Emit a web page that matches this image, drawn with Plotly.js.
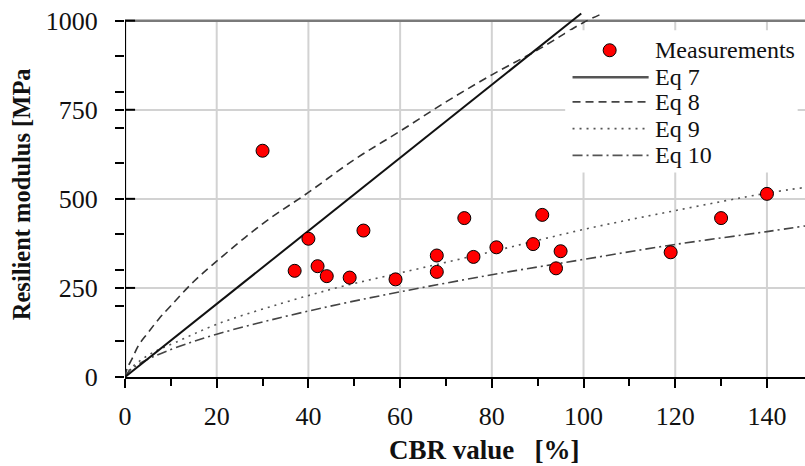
<!DOCTYPE html>
<html>
<head>
<meta charset="utf-8">
<script src="https://cdn.plot.ly/plotly-3.0.1.min.js"></script>
<style>html,body{margin:0;padding:0;background:#fff;}#chart{width:805px;height:466px;}</style>
</head>
<body>
<div id="chart"></div>
<script>
// Measurements
const cbr = [30, 37, 40, 42, 44, 49, 52, 59, 68, 68, 74, 76, 81, 89, 91, 94, 95, 119, 130, 140];
const mr  = [635, 298, 388, 311, 283, 279, 411, 274, 341, 295, 446, 337, 364, 373, 455, 305, 353, 350, 446, 514];

// Eq 7 (solid)
const eq7X = [0, 20, 40, 60, 80, 99.5];
const eq7Y = [0, 205, 410, 615, 820, 1020];

// Eq 8 (dashed)
const eq8X = [0, 0.5, 1.5, 3, 5, 7.5, 10, 15, 20, 30, 40, 50, 60, 70, 80, 90, 100, 104.5];
const eq8Y = [0, 25, 50, 90, 124, 165, 200, 268, 325, 430, 518, 610, 690, 772, 848, 918, 995, 1022];

// Eq 9 (dotted)
const eq9X = [0, 1, 3, 6, 11, 20, 34, 47, 60, 80, 100, 120, 140, 148.3];
const eq9Y = [0, 21, 43, 68, 97, 148, 206, 253, 292, 352, 414, 467, 516, 532];

// Eq 10 (dash-dot)
const eq10X = [0, 1, 3, 6, 11, 20, 34, 47, 60, 80, 100, 120, 140, 148.3];
const eq10Y = [0, 18, 36, 56, 82, 120, 167, 205, 239, 287, 330, 372, 408, 424];

// Axis ticks
const xTicks = [0, 20, 40, 60, 80, 100, 120, 140];
const yTicks = [0, 250, 500, 750, 1000];

// Legend labels
const legendNames = ["Measurements", "Eq 7", "Eq 8", "Eq 9", "Eq 10"];

const serif = "Liberation Serif";
const xMax = 148.3, yTop = 1000;

const traces = [
  {x: eq10X, y: eq10Y, mode: "lines", line: {color: "#444", width: 1.6, dash: "10px,4px,2px,4px", shape: "spline"}, showlegend: false, hoverinfo: "skip"},
  {x: eq9X, y: eq9Y, mode: "lines", line: {color: "#555", width: 1.6, dash: "2px,5px", shape: "spline"}, showlegend: false, hoverinfo: "skip"},
  {x: eq8X, y: eq8Y, mode: "lines", line: {color: "#333", width: 1.6, dash: "8px,5px", shape: "spline"}, showlegend: false, hoverinfo: "skip"},
  {x: eq7X, y: eq7Y, mode: "lines", line: {color: "#111", width: 2}, showlegend: false, hoverinfo: "skip"},
  {x: cbr, y: mr, mode: "markers", marker: {color: "#ff0000", size: 13, line: {color: "#000", width: 1}}, showlegend: false, cliponaxis: false}
];

const shapes = [];
// vertical grid lines (only up to 1000)
xTicks.filter(v => v > 0).forEach(v => shapes.push({type: "line", xref: "x", yref: "y", x0: v, x1: v, y0: 0, y1: yTop, line: {color: "#d2d2d2", width: 2}, layer: "below"}));
// top border
shapes.push({type: "line", xref: "x", yref: "y", x0: 0, x1: xMax, y0: yTop, y1: yTop, line: {color: "#7a7a7a", width: 2.5}, layer: "between"});
// left axis line
shapes.push({type: "line", xref: "x", yref: "y", x0: 0, x1: 0, y0: 0, y1: yTop, line: {color: "#000", width: 2.2}, layer: "between"});
// inside stubs of major y ticks
yTicks.filter(v => v > 0).forEach(v => shapes.push({type: "line", xref: "x", yref: "y", x0: 0, x1: 2.2, y0: v, y1: v, line: {color: "#000", width: 2}, layer: "between"}));
// legend box
shapes.push({type: "rect", xref: "x", yref: "y", x0: 96, x1: 146.7, y0: 574, y1: 973, fillcolor: "#fff", line: {width: 0}, layer: "above"});
// legend samples
const legY = [917, 841, 772, 697, 622];
const legDash = [null, "solid", "8px,5px", "2px,5px", "10px,4px,2px,4px"];
const legCol = [null, "#555", "#444", "#555", "#555"];
for (let i = 1; i < 5; i++) {
  shapes.push({type: "line", xref: "x", yref: "y", x0: 97.6, x1: 114.2, y0: legY[i], y1: legY[i], line: {color: legCol[i], width: i === 1 ? 2.5 : 1.8, dash: legDash[i]}, layer: "above"});
}
shapes.push({type: "circle", xref: "x", yref: "y", xsizemode: "pixel", ysizemode: "pixel", xanchor: 105.7, yanchor: legY[0], x0: -6.5, x1: 6.5, y0: -6.5, y1: 6.5, fillcolor: "#ff0000", line: {color: "#000", width: 1}, layer: "above"});

const annotations = legendNames.map((t, i) => ({
  text: t, xref: "x", yref: "y", x: 115.1, y: legY[i], xanchor: "left", yanchor: "middle", showarrow: false,
  font: {family: serif, size: 24, color: "#111"}
}));
annotations.push({text: "<b>CBR value\u00a0\u00a0\u00a0[%]</b>", xref: "paper", yref: "paper", x: 0.528, y: -0.199, xanchor: "center", yanchor: "middle", showarrow: false, font: {family: serif, size: 27, color: "#111"}});
annotations.push({text: "<b>Resilient modulus [MPa</b>", xref: "paper", yref: "paper", x: -0.153, y: 0.498, xanchor: "center", yanchor: "middle", textangle: -90, showarrow: false, font: {family: serif, size: 24.5, color: "#111"}});

const layout = {
  width: 805, height: 466,
  margin: {l: 125, r: 0, t: 10, b: 89},
  paper_bgcolor: "#fff", plot_bgcolor: "#fff",
  font: {family: serif},
  xaxis: {
    range: [0, xMax], tickvals: xTicks, ticktext: xTicks.map(String),
    showgrid: false, zeroline: false, showline: true, linecolor: "#000", linewidth: 2.2,
    ticks: "outside", ticklen: 9, tickwidth: 2, tickcolor: "#000",
    minor: {dtick: 10, tick0: 0, ticks: "outside", ticklen: 7, tickwidth: 2, tickcolor: "#000", showgrid: false},
    tickfont: {family: serif, size: 26, color: "#111"}, ticklabelstandoff: 6
  },
  yaxis: {
    range: [0, 1030], tickvals: yTicks, ticktext: yTicks.map(String),
    showgrid: true, gridcolor: "#d2d2d2", gridwidth: 2, zeroline: false, showline: false,
    ticks: "outside", ticklen: 9, tickwidth: 2, tickcolor: "#000",
    minor: {dtick: 100, tick0: 0, ticks: "outside", ticklen: 9, tickwidth: 2, tickcolor: "#000", showgrid: false},
    tickfont: {family: serif, size: 26, color: "#111"}, ticklabelstandoff: 12
  },
  shapes: shapes, annotations: annotations, showlegend: false
};

Plotly.newPlot("chart", traces, layout, {displayModeBar: false, staticPlot: true});
</script>
</body>
</html>
